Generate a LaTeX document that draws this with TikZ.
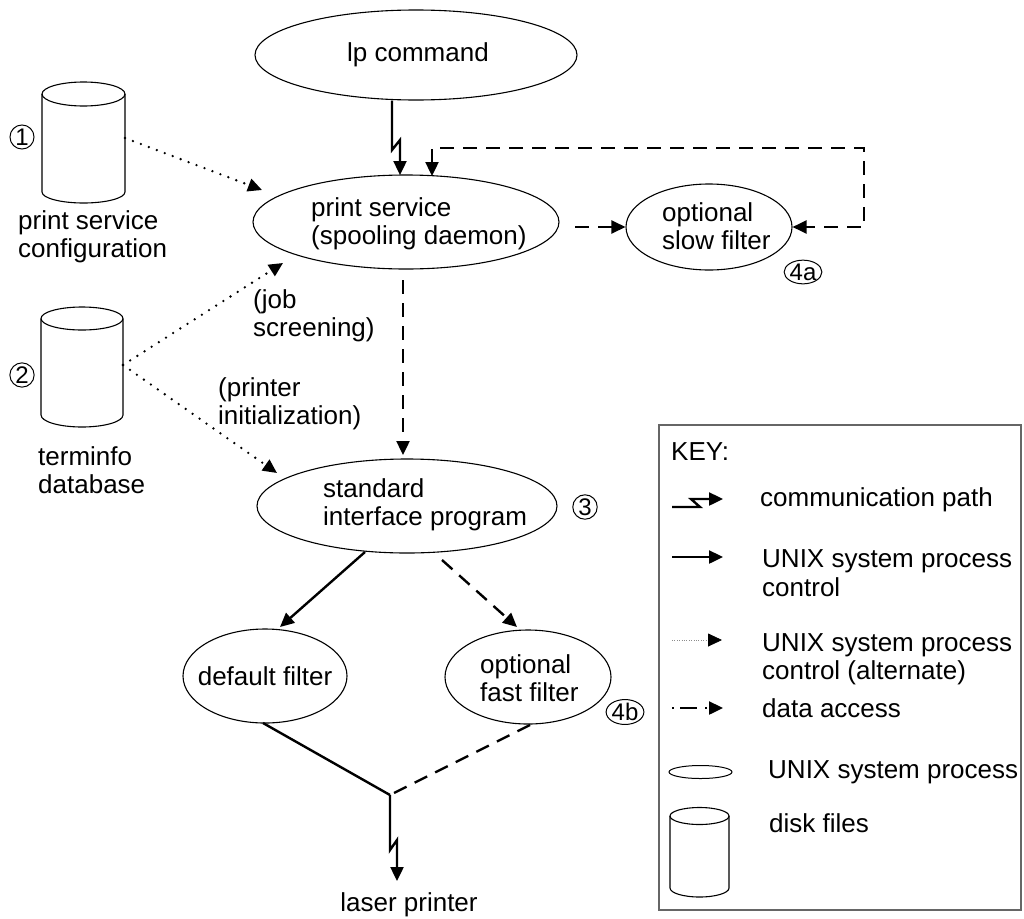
\documentclass[tikz,border=0pt]{standalone}
\usepackage{fontspec}
\setmainfont{Liberation Sans}
\usetikzlibrary{arrows.meta,shapes.geometric}

\begin{document}
\begin{tikzpicture}[x=1pt,y=-1pt,
  every node/.style={font=\fontsize{26}{28.5}\selectfont},
  proc/.style={draw, ellipse, line width=1.1pt, inner sep=0pt},
  lbl/.style={align=left, inner sep=0pt, anchor=west},
  num/.style={draw, circle, line width=1pt, inner sep=1pt, font=\fontsize{24}{24}\selectfont},
  numo/.style={draw, ellipse, line width=1pt, inner sep=0pt, font=\fontsize{24}{24}\selectfont},
  tipend/.style={-{Triangle[length=14pt,width=13pt]}},
  heavy/.style={line width=2.4pt},
  comm/.style={heavy, tipend},
  ctrl/.style={heavy, tipend},
  altctrl/.style={line width=2.6pt, dash pattern=on 0pt off 8.5pt, line cap=round, tipend},
  data/.style={heavy, dash pattern=on 14pt off 9pt, tipend},
  disk/.style={line width=1.1pt},
]
\useasboundingbox (0,0) rectangle (1024,918);

% ---------- disk files on the left ----------
\node[minimum width=83pt, minimum height=121pt, inner sep=0pt] (cfg) at (83.5,142.5) {};
\draw[disk] (42,94) -- (42,192) arc[start angle=180, end angle=0, x radius=41.5, y radius=11] -- (125,94);
\draw[disk] (83.5,94) ellipse[x radius=41.5, y radius=12];
\node[num] (n1) at (22,137) {1};
\node[lbl] (cfgtxt) at (18,237) {print service\\configuration};

\node[minimum width=82pt, minimum height=120pt, inner sep=0pt] (tinfo) at (82,367) {};
\draw[disk] (41,318.5) -- (41,415) arc[start angle=180, end angle=0, x radius=41, y radius=12] -- (123,318.5);
\draw[disk] (82,318.5) ellipse[x radius=41, y radius=11.5];
\node[num] (n2) at (22,375) {2};
\node[lbl] (tinfotxt) at (38,470) {terminfo\\database};

% ---------- processes ----------
\node[proc, minimum width=322pt, minimum height=90pt] (lp) at (416,55) {};
\node (lptxt) at (418,55) {lp command};

\node[proc, minimum width=306pt, minimum height=94pt] (ps) at (406,222) {};
\node[lbl] (pstxt) at (311,224) {print service\\(spooling daemon)};

\node[proc, minimum width=166pt, minimum height=86pt] (sf) at (709,227) {};
\node[lbl] (sftxt) at (662,226) {optional\\slow filter};
\node[numo] (n4a) at (803,272) {4a};

\node[proc, minimum width=300pt, minimum height=94pt] (si) at (407,506) {};
\node[lbl] (sitxt) at (323,505) {standard\\interface program};
\node[num] (n3) at (585,507) {3};

\node[proc, minimum width=164pt, minimum height=94pt] (df) at (265,676) {};
\node (dftxt) at (265,676) {default filter};

\node[proc, minimum width=166pt, minimum height=94pt] (ff) at (528,677) {};
\node[lbl] (fftxt) at (480,678) {optional\\fast filter};
\node[numo] (n4b) at (625,712) {4b};

\node (lpr) at (409,905) {laser printer};
\coordinate (jn) at (390,795);

% ---------- connectors ----------
\draw[comm] (lp.south -| 392,0) -- (392,150) -- (400,140) -- (400,175);
\draw[heavy, dash pattern=on 14pt off 9pt,
      {Triangle[length=14pt,width=13pt]}-{Triangle[length=14pt,width=13pt]}]
      (432,176) -- (432,148) -- (864,148) -- (864,227) -- (sf.east);
\draw[data] (575,227) -- (sf.west);
\draw[data] (403,280) -- (403,455);

\draw[altctrl] (125,138) -- (262,190);
\draw[altctrl] (123,365) -- (283,263);
\draw[altctrl] (123,365) -- (277,473);
\node[lbl] (jobtxt) at (253,316) {(job\\screening)};
\node[lbl] (inittxt) at (218,404) {(printer\\initialization)};

\draw[ctrl] (365,552) -- (280,627);
\draw[data] (442,560) -- (517,627);

\draw[heavy] (263,723) -- (jn);
\draw[heavy, dash pattern=on 14pt off 9pt] (530,725) -- (jn);
\draw[comm] (jn) -- (390,850) -- (397,840) -- (397,881);

% ---------- key ----------
\draw[line width=1.3pt, black!60] (659,425) rectangle (1021,910);
\node[lbl] (keytxt) at (671,452) {KEY:};

\draw[comm] (672,507) -- (700,507) -- (691,499) -- (723,499);
\node[lbl] (kcomm) at (760,500) {communication path};

\draw[ctrl] (672,557) -- (723,557);
\node[lbl] (kctrl) at (762,573) {UNIX system process\\control};

\draw[line width=0.8pt, black!45, dash pattern=on 0.8pt off 1.6pt] (672,640) -- (710,640);
\draw[-{Triangle[length=14pt,width=13pt]}, line width=0.8pt] (709,640) -- (722,640);
\node[lbl] (kalt) at (762,659) {UNIX system process\\control (alternate)};

\draw[heavy, dash pattern=on 2pt off 6pt on 17pt off 8pt, tipend] (672,708) -- (723,708);
\node[lbl] (kdata) at (762,708) {data access};

\draw[line width=1pt] (700.5,772) ellipse[x radius=31.5, y radius=6.5];
\node[lbl] (kproc) at (768,772) {UNIX system process};

\draw[disk] (670,816) -- (670,888) arc[start angle=180, end angle=0, x radius=29.5, y radius=9] -- (729,816);
\draw[disk] (699.5,816) ellipse[x radius=29.5, y radius=8.5];
\node[lbl] (kdisk) at (769,823) {disk files};
\end{tikzpicture}
\end{document}
